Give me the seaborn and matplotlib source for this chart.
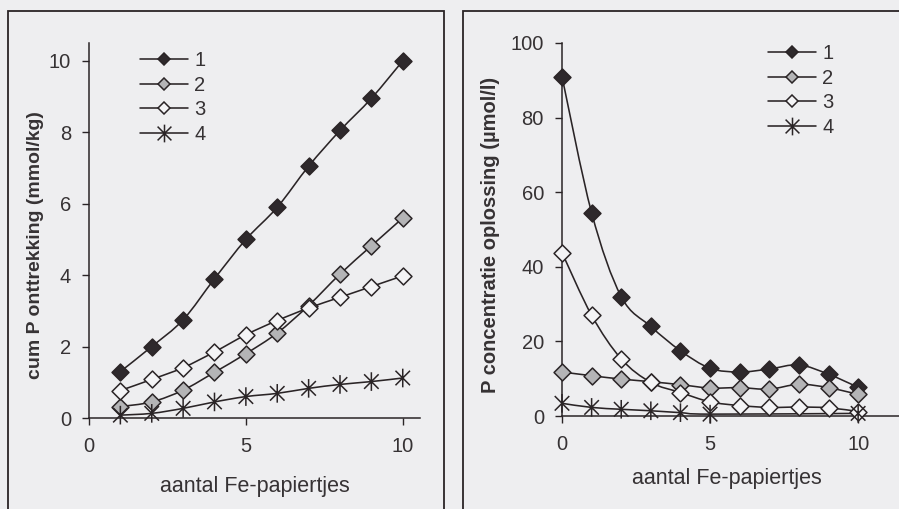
import numpy as np
import matplotlib
matplotlib.use("Agg")
import matplotlib.pyplot as plt
from matplotlib.path import Path
from matplotlib.patches import PathPatch, Rectangle
from matplotlib.lines import Line2D
import seaborn as sns

# ---------------- data ----------------
x_left = [1, 2, 3, 4, 5, 6, 7, 8, 9, 10]
cum_1 = [1.3, 2.0, 2.75, 3.9, 5.0, 5.9, 7.05, 8.05, 8.95, 10.0]
cum_2 = [0.32, 0.45, 0.78, 1.28, 1.8, 2.38, 3.15, 4.03, 4.82, 5.6]
cum_3 = [0.77, 1.08, 1.41, 1.85, 2.33, 2.73, 3.08, 3.38, 3.68, 3.98]
cum_4 = [0.08, 0.13, 0.27, 0.45, 0.6, 0.69, 0.83, 0.94, 1.02, 1.12]

x_right = [0, 1, 2, 3, 4, 5, 6, 7, 8, 9, 10]
conc_1 = [91.0, 54.5, 32.0, 24.0, 17.5, 12.8, 11.8, 12.6, 13.7, 11.2, 7.7]
conc_2 = [11.8, 10.8, 9.9, 9.2, 8.4, 7.5, 7.6, 7.2, 8.5, 7.6, 5.8]
conc_3 = [43.8, 27.0, 15.3, 9.0, 6.3, 3.8, 2.8, 2.3, 2.4, 2.2, 1.2]
x_right_4 = [0, 1, 2, 3, 4, 5, 10]
conc_4 = [3.4, 2.3, 1.8, 1.4, 0.9, 0.5, 0.7]

labels = ["1", "2", "3", "4"]
left_xticks = [0, 5, 10]
left_yticks = [0, 2, 4, 6, 8, 10]
right_xticks = [0, 5, 10]
right_yticks = [0, 20, 40, 60, 80, 100]

# ---------------- style ----------------
BG = "#eeeef0"
INK = "#2a2426"
TXT = "#363234"
sns.set_theme(style="white")
plt.rcParams["font.family"] = ["Liberation Sans", "DejaVu Sans"]
plt.rcParams["axes.facecolor"] = BG
plt.rcParams["figure.facecolor"] = BG

asterisk = Path([(0, -1), (0, 1), (-0.78, -0.78), (0.78, 0.78), (-0.78, 0.78), (0.78, -0.78)],
                [Path.MOVETO, Path.LINETO, Path.MOVETO, Path.LINETO, Path.MOVETO, Path.LINETO])

styles = [
    dict(marker="D", fc="#2e292c", s=74),
    dict(marker="D", fc="#b4b4b6", s=74),
    dict(marker="D", fc="#f4f4f6", s=74),
    dict(marker=asterisk, fc="none", s=180),
]


def smooth(ax, xs, ys):
    pts = np.column_stack([xs, ys]).astype(float)
    n = len(pts)
    verts = [pts[0]]
    codes = [Path.MOVETO]
    for i in range(n - 1):
        p0 = pts[i - 1] if i > 0 else pts[i]
        p1 = pts[i]
        p2 = pts[i + 1]
        p3 = pts[i + 2] if i + 2 < n else pts[i + 1]
        c1 = p1 + (p2 - p0) / 6.0
        c2 = p2 - (p3 - p1) / 6.0
        verts += [c1, c2, p2]
        codes += [Path.CURVE4] * 3
    ax.add_patch(PathPatch(Path(verts, codes), fill=False, ec=INK, lw=1.15,
                           zorder=2, capstyle="round"))


def draw_series(ax, xs, ys, st):
    smooth(ax, xs, ys)
    if st["marker"] is asterisk:
        sns.scatterplot(x=xs, y=ys, ax=ax, marker=asterisk, s=st["s"], color=INK,
                        edgecolor=INK, facecolor="none", linewidth=1.1, zorder=3,
                        legend=False)
    else:
        sns.scatterplot(x=xs, y=ys, ax=ax, marker="D", s=st["s"], color=st["fc"],
                        edgecolor=INK, linewidth=1.1, zorder=3, legend=False)


def style_axes(ax, xticks, yticks):
    for side in ["top", "right"]:
        ax.spines[side].set_visible(False)
    for side in ["left", "bottom"]:
        ax.spines[side].set_color(INK)
        ax.spines[side].set_linewidth(1.1)
    ax.set_xticks(xticks)
    ax.set_yticks(yticks)
    ax.tick_params(axis="both", direction="out", length=5, width=1.0, color=INK,
                   labelsize=14.5, labelcolor=TXT, left=True, bottom=True)
    ax.tick_params(axis="y", pad=8)
    ax.tick_params(axis="x", pad=9)


def make_legend(ax, fig, anchor):
    handles = []
    for st in styles:
        if st["marker"] is asterisk:
            h = Line2D([], [], color=INK, lw=1.15, marker=asterisk, markersize=17,
                       markeredgecolor=INK, markeredgewidth=1.1)
        else:
            h = Line2D([], [], color=INK, lw=1.15, marker="D", markersize=8.3,
                       markerfacecolor=st["fc"], markeredgecolor=INK, markeredgewidth=1.1)
        handles.append(h)
    ax.legend(handles, labels, loc="upper left", bbox_to_anchor=anchor,
              bbox_transform=fig.transFigure, frameon=False, fontsize=14.5,
              handlelength=2.4, handletextpad=0.3, labelspacing=0.28,
              borderpad=0, borderaxespad=0, markerscale=0.75, labelcolor=TXT)


W, H = 899, 509
fig = plt.figure(figsize=(W / 100, H / 100), dpi=100)

# panel frames
fig.add_artist(Rectangle((8 / W, -0.1), (444 - 8) / W, 1.1 - 11 / H, transform=fig.transFigure,
                         fill=False, ec=INK, lw=1.3))
fig.add_artist(Rectangle((463 / W, -0.1), 0.6, 1.1 - 11 / H, transform=fig.transFigure,
                         fill=False, ec=INK, lw=1.3))

# ---- left panel ----
axL = fig.add_axes([89 / W, 1 - 418 / H, (420 - 89) / W, (418 - 43) / H])
for ys, st in zip([cum_1, cum_2, cum_3, cum_4], styles):
    draw_series(axL, x_left, ys, st)
axL.set_xlim(0, 10.55)
axL.set_ylim(0, 10.5)
style_axes(axL, left_xticks, left_yticks)
axL.set_xlabel("aantal Fe-papiertjes", fontsize=15.5, color=TXT)
axL.xaxis.set_label_coords(0.5, -0.155)
axL.set_ylabel("cum P onttrekking (mmol/kg)", fontsize=14, fontweight="bold",
               color=TXT)
axL.yaxis.set_label_coords(-0.135, 0.46)
make_legend(axL, fig, (140 / W, 1 - 51 / H))

# ---- right panel ----
axR = fig.add_axes([562 / W, 1 - 416 / H, (899 - 562) / W, (416 - 43) / H])
for xs, ys, st in zip([x_right, x_right, x_right, x_right_4],
                      [conc_1, conc_2, conc_3, conc_4], styles):
    draw_series(axR, xs, ys, st)
axR.set_xlim(0, 11.38)
axR.set_ylim(0, 100)
style_axes(axR, right_xticks, right_yticks)
axR.set_xlabel("aantal Fe-papiertjes", fontsize=15.5, color=TXT)
axR.xaxis.set_label_coords(0.49, -0.14)
axR.set_ylabel("P concentratie oplossing (µmol/l)", fontsize=14.5, fontweight="bold",
               color=TXT)
axR.yaxis.set_label_coords(-0.185, 0.485)
make_legend(axR, fig, (768 / W, 1 - 44 / H))

for ax in (axL, axR):
    for c in ax.collections:
        c.set_clip_on(False)
    for p in ax.patches:
        p.set_clip_on(False)

fig.savefig("out.png", dpi=100, facecolor=BG)
